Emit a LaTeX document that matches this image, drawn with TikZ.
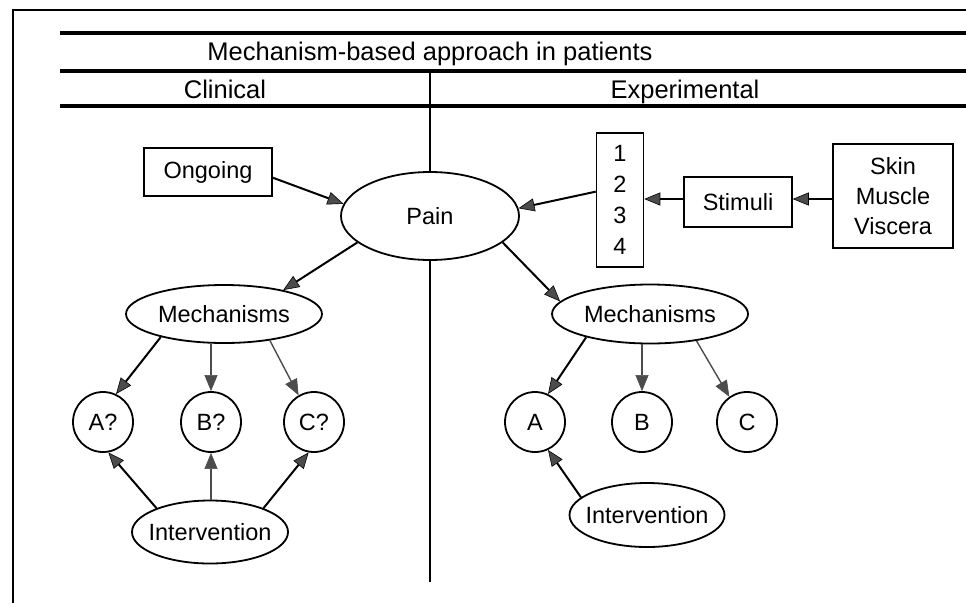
\documentclass[tikz,border=0pt]{standalone}
\usepackage{fontspec}
\setmainfont{Liberation Sans}
\usetikzlibrary{arrows.meta,shapes.geometric,calc}
\begin{document}
\begin{tikzpicture}[x=1pt,y=-1pt,
  nodefont/.style={font=\fontsize{23.5}{31}\selectfont},
  box/.style={draw,line width=1.5pt,inner sep=0pt,nodefont,align=center},
  oval/.style={draw,ellipse,line width=1.8pt,inner sep=0pt,fill=white,nodefont},
  circ/.style={draw,circle,line width=1.8pt,minimum size=60pt,inner sep=0pt,nodefont},
  tip/.style={-{Triangle[length=16pt,width=13pt,fill=gray!60!black,line width=0.6pt]}},
  arr/.style={line width=2pt,tip},
  arrlight/.style={line width=1.4pt,draw=black!70,tip},
  rulefat/.style={line width=3.5pt},
  frame/.style={line width=1.5pt},
  hdr/.style={font=\fontsize{25.5}{30}\selectfont,anchor=base,inner sep=0pt}
]
\fill[white] (0,0) rectangle (966,603);
\useasboundingbox (0,0) rectangle (966,603);

% frame and header rules
\coordinate (ftl) at (13,10);
\coordinate (ftr) at (966,10);
\coordinate (fbl) at (13,603);
\draw[frame] (ftr) -- (ftl) -- (fbl);
\coordinate (r1a) at (60,33);  \coordinate (r1b) at (966,33);
\coordinate (r2a) at (60,71);  \coordinate (r2b) at (966,71);
\coordinate (r3a) at (60,106); \coordinate (r3b) at (966,106);
\draw[rulefat] (r1a) -- (r1b);
\draw[rulefat] (r2a) -- (r2b);
\draw[rulefat] (r3a) -- (r3b);
\coordinate (dtop) at (430,71);
\coordinate (dbot) at (430,582);
\draw[line width=2pt] (dtop) -- (dbot);

\node[hdr] (title) at (430,60) {Mechanism-based approach in patients};
\node[hdr] (clin) at (225,98) {Clinical};
\node[hdr] (expt) at (685,98) {Experimental};

% top row
\node[box,minimum width=128pt,minimum height=48pt] (ongoing) at (208,172) {Ongoing};
\node[oval,minimum width=178pt,minimum height=88pt] (pain) at (430,216) {\makebox[0pt]{Pain}};
\node[box,minimum width=47pt,minimum height=134pt] (nums) at (620,200) {1\\2\\3\\4};
\node[box,minimum width=108pt,minimum height=50pt] (stim) at (738,202) {Stimuli};
\node[box,minimum width=120pt,minimum height=104pt,font=\fontsize{23.5}{30}\selectfont] (skin) at (893,196) {Skin\\Muscle\\Viscera};

% mechanisms
\node[oval,minimum width=196pt,minimum height=58pt] (mechL) at (224,314) {\makebox[0pt]{Mechanisms}};
\node[oval,minimum width=196pt,minimum height=59pt] (mechR) at (650,314) {\makebox[0pt]{Mechanisms}};

\node[circ] (aL) at (103,422) {A?};
\node[circ] (bL) at (211,422) {B?};
\node[circ] (cL) at (314,422) {C?};
\node[circ] (aR) at (535,422) {A};
\node[circ] (bR) at (642,422) {B};
\node[circ] (cR) at (747,422) {C};

\node[oval,minimum width=156pt,minimum height=63pt] (intL) at (210,532) {\makebox[0pt]{Intervention}};
\node[oval,minimum width=155pt,minimum height=64pt] (intR) at (647,515) {\makebox[0pt]{Intervention}};

% connectors
\draw[arr] (ongoing.-5) -- (pain.172);
\draw[arr] (nums.161) -- (pain.5);
\draw[arr] (stim.west |- 0,199) -- (nums.east |- 0,199);
\draw[arr] (skin.west |- 0,199) -- (stim.east |- 0,199);
\draw[arr] (pain.200) -- (mechL.22);
\draw[arr] (pain.-20) -- (mechR.172);

\draw[arr] (mechL.200) -- (aL.65);
\draw[arrlight] (bL.north |- mechL.south) -- (bL.north);
\draw[arrlight] (mechL.-30) -- (cL.120);
\draw[arr] (intL.156) -- (aL.-80);
\draw[arrlight] (bL.south |- intL.north) -- (bL.south);
\draw[arr] (intL.24) -- (cL.-100);

\draw[arr] (mechR.200) -- (aR.65);
\draw[arrlight] (bR.north |- mechR.south) -- (bR.north);
\draw[arrlight] (mechR.-30) -- (cR.125);
\draw[arr] (intR.165) -- (aR.-65);
\end{tikzpicture}
\end{document}
